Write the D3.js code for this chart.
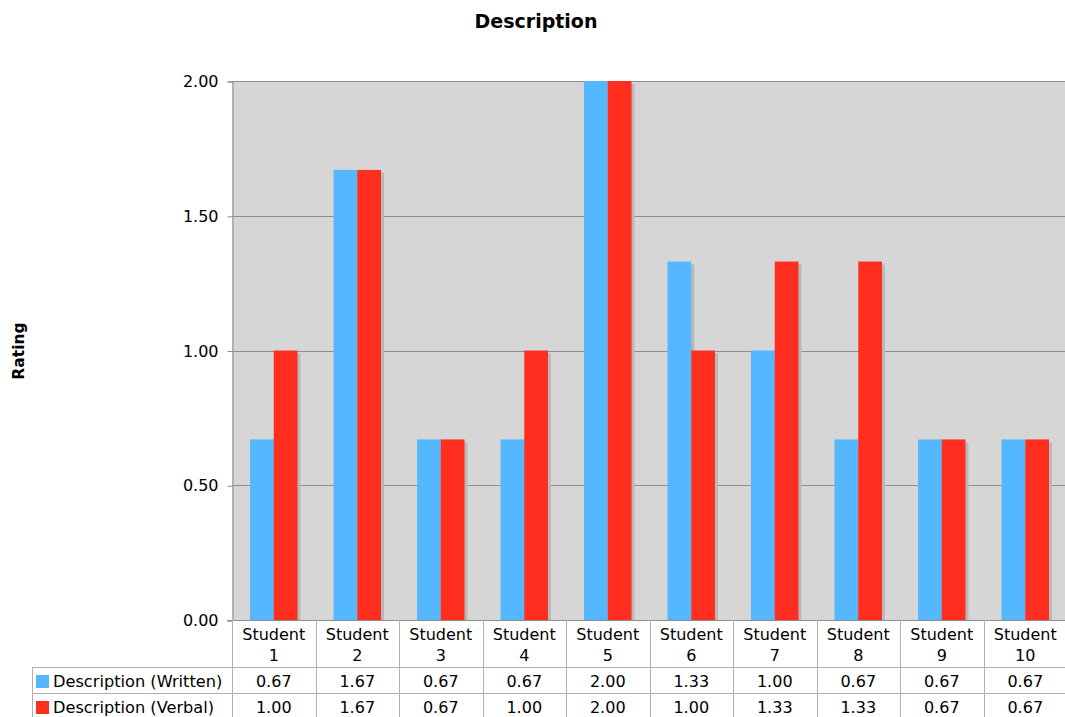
<!DOCTYPE html>
<html>
<head>
<meta charset="utf-8">
<script src="https://cdn.jsdelivr.net/npm/d3@7"></script>
<style>
  body { margin: 0; background: #fff; }
  svg { display: block; font-family: "DejaVu Sans", Verdana, sans-serif; }
</style>
</head>
<body>
<div class="canvas"></div>
<script>
// chart data
const students = ['Student 1', 'Student 2', 'Student 3', 'Student 4', 'Student 5',
  'Student 6', 'Student 7', 'Student 8', 'Student 9', 'Student 10'];
const written = [0.67, 1.67, 0.67, 0.67, 2.00, 1.33, 1.00, 0.67, 0.67, 0.67];
const verbal = [1.00, 1.67, 0.67, 1.00, 2.00, 1.00, 1.33, 1.33, 0.67, 0.67];
const seriesNames = ['Description (Written)', 'Description (Verbal)'];
const yTicks = [0, 0.5, 1, 1.5, 2];

const dims = { width: 1065, height: 717 };
const plot = { left: 232, right: 1067, top: 81, bottom: 620 };
const colors = ['#55b8ff', '#ff2e1f'];

const svg = d3.select('.canvas')
  .append('svg')
    .attr('width', dims.width)
    .attr('height', dims.height);

// scales
const x = d3.scaleBand()
  .domain(students)
  .range([plot.left, plot.right]);

const xInner = d3.scaleBand()
  .domain(seriesNames)
  .range([18, x.bandwidth() - 18]);

const y = d3.scaleLinear()
  .domain([0, 2])
  .range([plot.bottom, plot.top]);

// title
svg.append('text')
  .attr('x', 536)
  .attr('y', 28)
  .attr('text-anchor', 'middle')
  .attr('font-size', 19)
  .attr('font-weight', 'bold')
  .text('Description');

// y axis title
svg.append('text')
  .attr('transform', 'translate(24, 351) rotate(-90)')
  .attr('text-anchor', 'middle')
  .attr('font-size', 15.5)
  .attr('font-weight', 'bold')
  .text('Rating');

// plot background
svg.append('rect')
  .attr('x', plot.left)
  .attr('y', plot.top)
  .attr('width', plot.right - plot.left)
  .attr('height', plot.bottom - plot.top)
  .attr('fill', '#d6d6d6');

// grid lines
svg.append('g')
  .selectAll('line')
  .data(yTicks)
  .join('line')
    .attr('x1', plot.left)
    .attr('x2', plot.right)
    .attr('y1', d => Math.round(y(d)) + 0.5)
    .attr('y2', d => Math.round(y(d)) + 0.5)
    .attr('stroke', '#8e8e8e');

// y axis
const yAxis = svg.append('g')
  .attr('transform', `translate(${plot.left + 0.5}, 0.5)`)
  .call(d3.axisLeft(y).tickValues(yTicks).tickFormat(d3.format('.2f')).tickSize(5).tickPadding(9));

yAxis.select('.domain').attr('stroke', '#8e8e8e');
yAxis.selectAll('.tick line').attr('stroke', '#8e8e8e');
yAxis.selectAll('.tick text')
  .attr('font-size', 16)
  .attr('font-family', '"DejaVu Sans", Verdana, sans-serif')
  .attr('fill', '#000');

// bars
const groups = svg.append('g')
  .selectAll('g')
  .data(students)
  .join('g')
    .attr('transform', d => `translate(${x(d)}, 0)`);

const barData = (d, i) => [
  { name: seriesNames[0], value: written[i], color: colors[0] },
  { name: seriesNames[1], value: verbal[i], color: colors[1] }
];

// shadows
groups.selectAll('.shadow')
  .data(barData)
  .join('rect')
    .attr('class', 'shadow')
    .attr('x', d => xInner(d.name) + 3)
    .attr('y', d => y(d.value) + 3)
    .attr('width', xInner.bandwidth())
    .attr('height', d => plot.bottom - y(d.value) - 3)
    .attr('fill', '#b9b9b9');

groups.selectAll('.bar')
  .data(barData)
  .join('rect')
    .attr('class', 'bar')
    .attr('x', d => xInner(d.name))
    .attr('y', d => y(d.value))
    .attr('width', xInner.bandwidth())
    .attr('height', d => plot.bottom - y(d.value))
    .attr('fill', d => d.color);

// axis line at bottom
svg.append('line')
  .attr('x1', plot.left - 5)
  .attr('x2', plot.right)
  .attr('y1', plot.bottom + 0.5)
  .attr('y2', plot.bottom + 0.5)
  .attr('stroke', '#8e8e8e');

// data table
const table = { legendLeft: 32, headBottom: 667, rowHeight: 26 };
const tableLine = '#b0b0b0';
const tableRows = [written, verbal];

const grid = svg.append('g').attr('stroke', tableLine);

// vertical lines
grid.selectAll('.vline')
  .data(students)
  .join('line')
    .attr('class', 'vline')
    .attr('x1', d => Math.round(x(d)) + 0.5)
    .attr('x2', d => Math.round(x(d)) + 0.5)
    .attr('y1', plot.bottom)
    .attr('y2', dims.height);

grid.append('line')
  .attr('x1', table.legendLeft + 0.5)
  .attr('x2', table.legendLeft + 0.5)
  .attr('y1', table.headBottom)
  .attr('y2', dims.height);

// horizontal lines
grid.selectAll('.hline')
  .data(tableRows)
  .join('line')
    .attr('class', 'hline')
    .attr('x1', table.legendLeft)
    .attr('x2', plot.right)
    .attr('y1', (d, i) => table.headBottom + i * table.rowHeight + 0.5)
    .attr('y2', (d, i) => table.headBottom + i * table.rowHeight + 0.5);

// header labels
const heads = svg.append('g')
  .selectAll('text')
  .data(students)
  .join('text')
    .attr('text-anchor', 'middle')
    .attr('font-size', 16)
    .attr('transform', d => `translate(${x(d) + x.bandwidth() / 2}, 0)`);

heads.append('tspan')
  .attr('x', 0)
  .attr('y', 640)
  .text(d => d.split(' ')[0]);

heads.append('tspan')
  .attr('x', 0)
  .attr('y', 661)
  .text(d => d.split(' ')[1]);

// legend column
const legendRows = svg.append('g')
  .selectAll('g')
  .data(seriesNames)
  .join('g')
    .attr('transform', (d, i) => `translate(0, ${table.headBottom + i * table.rowHeight})`);

legendRows.append('rect')
  .attr('x', 36)
  .attr('y', 8)
  .attr('width', 13)
  .attr('height', 13)
  .attr('fill', (d, i) => colors[i]);

legendRows.append('text')
  .attr('x', 53)
  .attr('y', 20)
  .attr('font-size', 16.2)
  .text(d => d);

// value cells
tableRows.forEach((values, r) => {
  svg.append('g')
    .selectAll('text')
    .data(values)
    .join('text')
      .attr('x', (d, i) => x(students[i]) + x.bandwidth() / 2)
      .attr('y', table.headBottom + r * table.rowHeight + 20)
      .attr('text-anchor', 'middle')
      .attr('font-size', 16)
      .text(d => d3.format('.2f')(d));
});
</script>
</body>
</html>
